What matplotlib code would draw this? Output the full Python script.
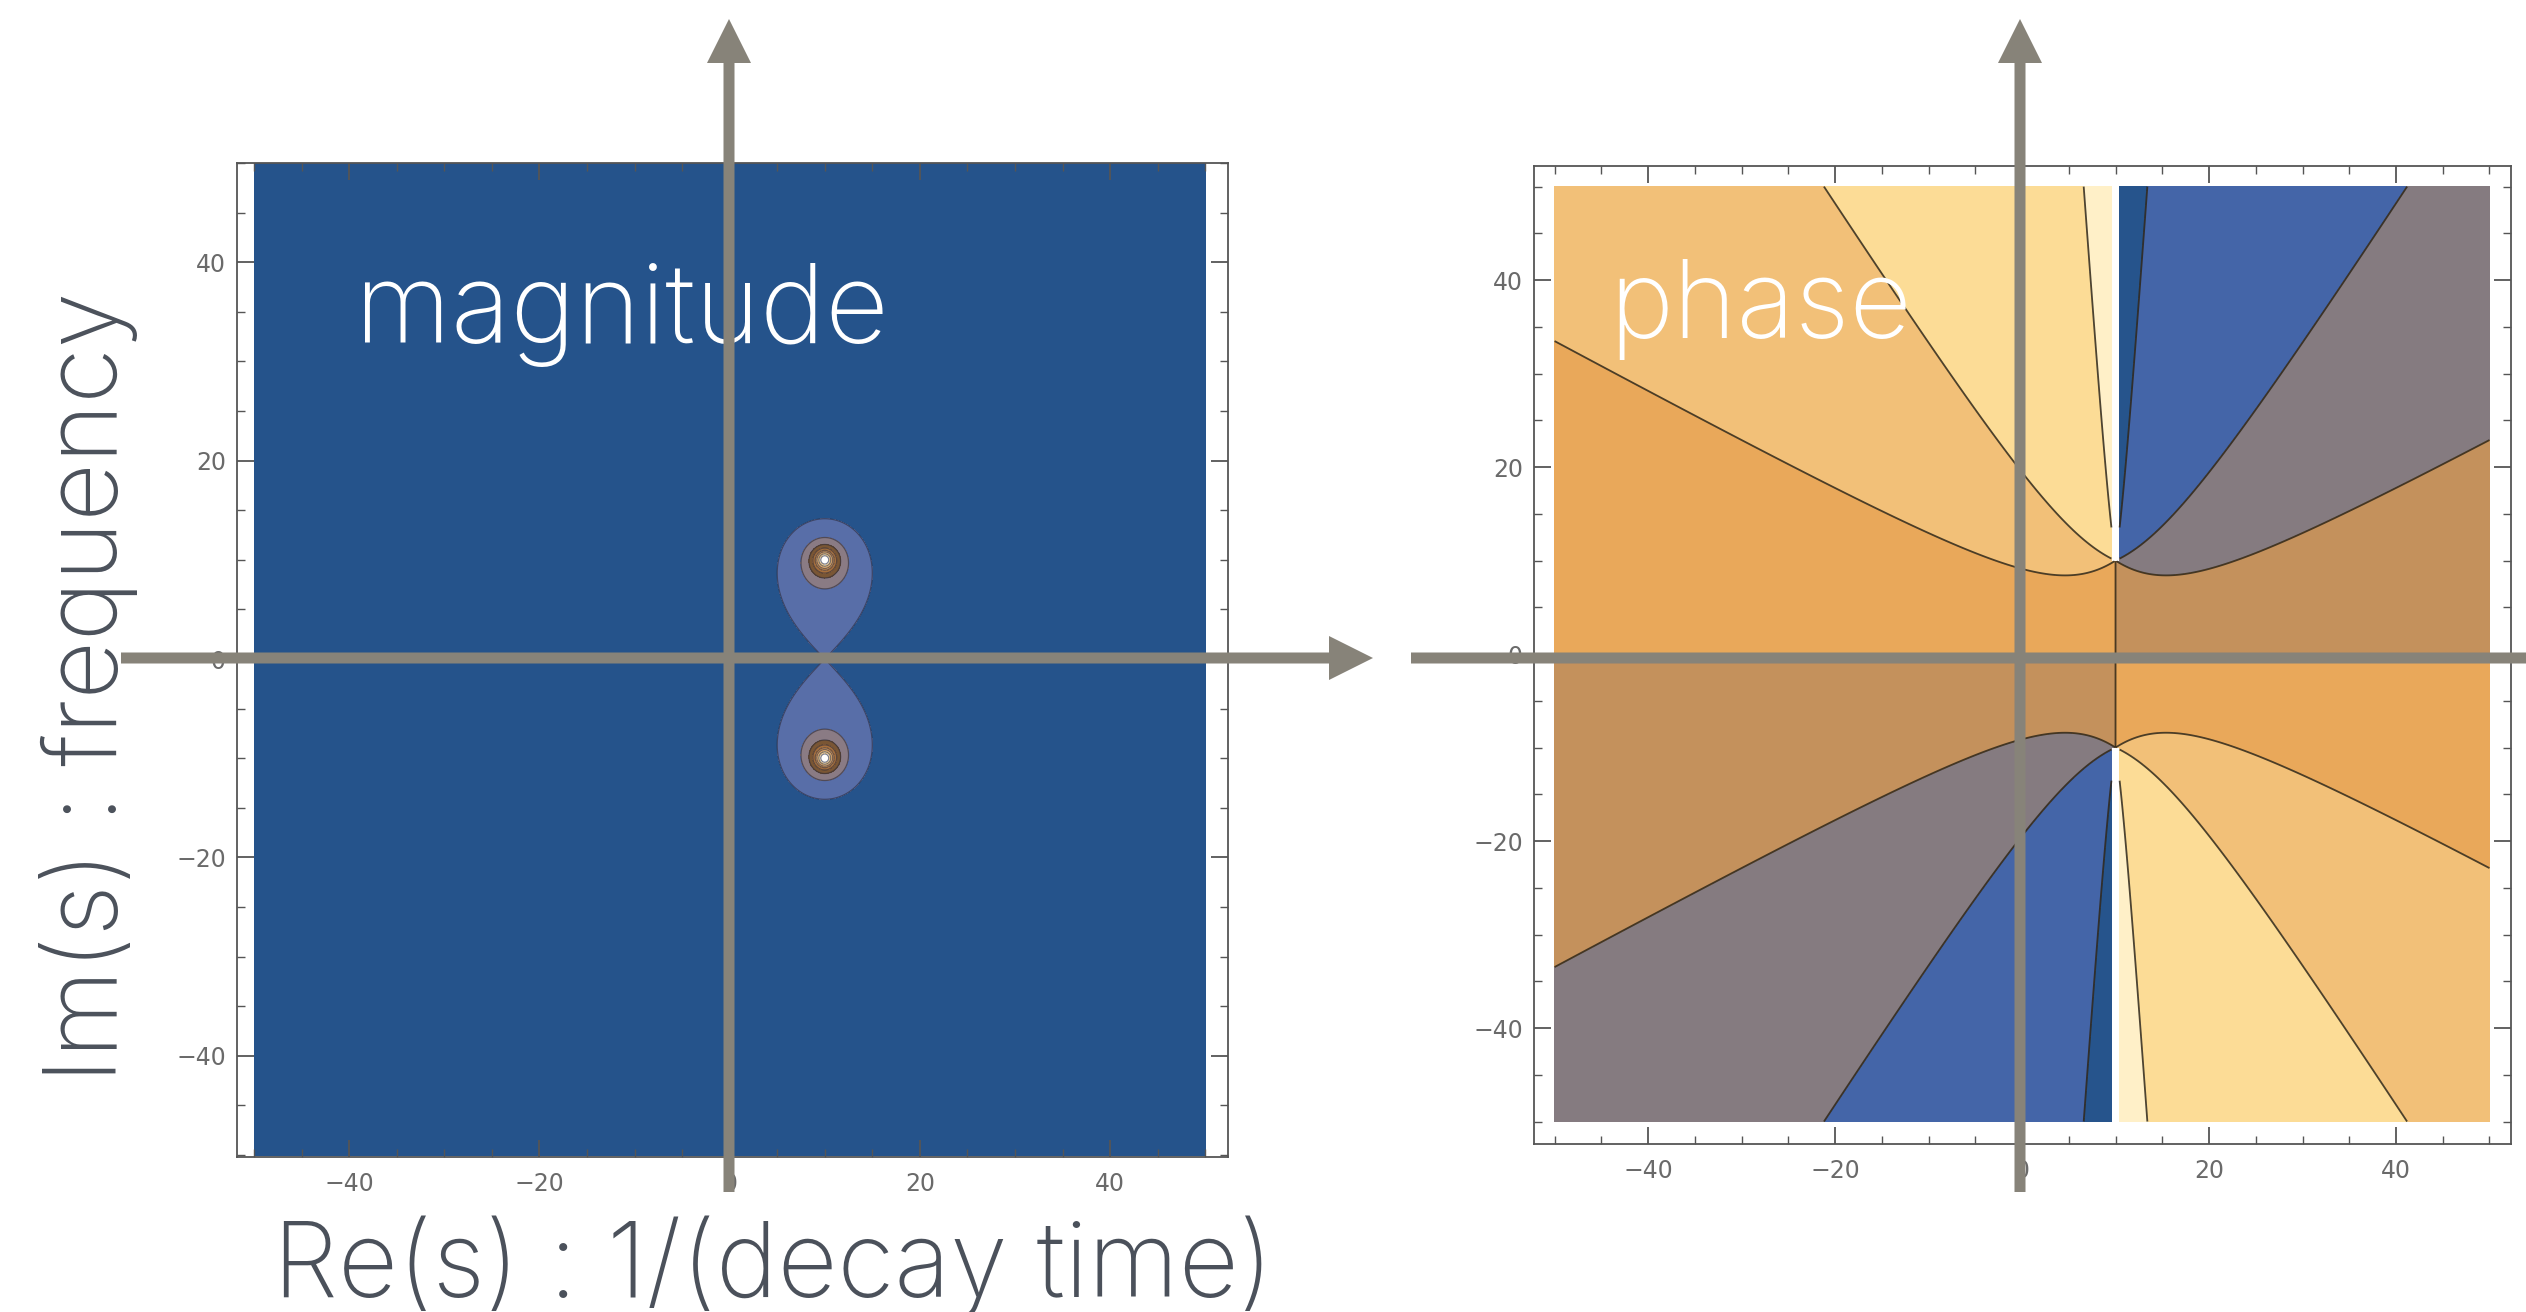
import numpy as np
import matplotlib
matplotlib.use("Agg")
import matplotlib.pyplot as plt
from matplotlib.patches import Polygon

# ---------------- data ----------------
pole_re = [10.0, 10.0]          # poles of H(s) = 1/((s-p1)(s-p2))
pole_im = [10.0, -10.0]
plot_range = [-50.0, 50.0]

# phase contours at integer radians (Mathematica automatic contours)
phase_levels = [-np.pi, -3.0, -2.0, -1.0, 0.0, 1.0, 2.0, 3.0, np.pi]
phase_colors = ["#26548c", "#4465a8", "#857b80", "#c4915c",
                "#e9a85a", "#f2c078", "#fcdc96", "#fff0c8"]

mag_levels = [0.0, 0.01, 0.02, 0.03, 0.04, 0.05, 0.06, 0.08, 0.12, 1e9]
mag_colors = ["#25538b", "#586ea8", "#8a7b84", "#7a5634", "#a8703c",
              "#d09050", "#e8b070", "#f8d8a0", "#ffffff"]

major_ticks = [-40, -20, 0, 20, 40]
major_labels = ["\u221240", "\u221220", "0", "20", "40"]
minor_ticks = list(range(-50, 51, 5))

title_left = "magnitude"
title_right = "phase"
xlabel_text = "Re(s) : 1/(decay time)"
ylabel_text = "Im(s) : frequency"

# ---------------- figure ----------------
W, H = 2526, 1312
fig = plt.figure(figsize=(W / 100, H / 100), dpi=100)
fig.patch.set_facecolor("white")


def frac(px, py):
    return px / W, 1 - py / H


def axes_px(x0, y0, x1, y1):
    fx0, fy1 = frac(x0, y0)
    fx1, fy0 = frac(x1, y1)
    return fig.add_axes([fx0, fy0, fx1 - fx0, fy1 - fy0])


ax_m = axes_px(237, 163, 1228, 1157)
ax_p = axes_px(1534, 166, 2511, 1144)

# grid
n = 1601
xs = np.linspace(plot_range[0], plot_range[1], n) + 1e-4
ys = np.linspace(plot_range[0], plot_range[1], n) + 1e-4
X, Y = np.meshgrid(xs, ys)
S = X + 1j * Y
F = np.ones_like(S)
for pr, pim in zip(pole_re, pole_im):
    F = F / (S - complex(pr, pim))

mag = np.abs(F)
phase = np.angle(F)
cut = (np.abs(X - pole_re[0]) < 0.42) & (np.abs(Y) > abs(pole_im[0]))
phase_m = np.ma.masked_where(cut, phase)

# magnitude plot
ax_m.contourf(X, Y, mag, levels=mag_levels, colors=mag_colors, zorder=1)
ax_m.contour(X, Y, mag, levels=mag_levels[1:-1], colors="#2a2a3a",
             linewidths=0.9, alpha=0.6, linestyles="solid", zorder=2)

# phase plot
ax_p.contourf(X, Y, phase_m, levels=phase_levels, colors=phase_colors, zorder=1)
ax_p.contour(X, Y, phase_m, levels=phase_levels[1:-1], colors="#2e2618",
             linewidths=1.3, alpha=0.85, linestyles="solid", zorder=2)


def style(ax, xlim, ylim):
    ax.set_facecolor("white")
    ax.set_xlim(xlim)
    ax.set_ylim(ylim)
    ax.set_xticks(major_ticks)
    ax.set_yticks(major_ticks)
    ax.set_xticklabels(major_labels)
    ax.set_yticklabels(major_labels)
    ax.set_xticks(minor_ticks, minor=True)
    ax.set_yticks(minor_ticks, minor=True)
    ax.tick_params(which="both", direction="in", top=True, right=True,
                   color="#555555", labelcolor="#6a6a6a", labelsize=17)
    ax.tick_params(which="major", length=12, width=1.3)
    ax.tick_params(which="minor", length=6, width=1.0)
    ax.tick_params(axis="x", pad=11)
    ax.tick_params(axis="y", pad=8)
    for sp in ax.spines.values():
        sp.set_color("#555555")
        sp.set_linewidth(1.3)


style(ax_m, (-51.8, 52.4), (-50.2, 50.0))
style(ax_p, (-52.2, 52.3), (-52.4, 52.2))

# ---------------- big texts ----------------
font_kw = dict(family=["Inter", "DejaVu Sans"], fontweight="light")
fig.text(*frac(355, 343), title_left, color="white", fontsize=79.5,
         ha="left", va="baseline", zorder=5, **font_kw)
fig.text(*frac(1609, 338), title_right, color="white", fontsize=78,
         ha="left", va="baseline", zorder=5, **font_kw)
fig.text(*frac(273, 1297), xlabel_text, color="#4b515b", fontsize=75,
         ha="left", va="baseline", zorder=5, **font_kw)
fig.text(*frac(117, 1083), ylabel_text, color="#4b515b", fontsize=73,
         rotation=90, rotation_mode="anchor", ha="left", va="baseline",
         zorder=5, **font_kw)

# ---------------- grey complex-plane arrows ----------------
ARROW = "#878379"


def arrow(x0, y0, x1, y1, shaft=11, head_w=44, head_l=44):
    d = np.array([x1 - x0, y1 - y0], float)
    L = np.hypot(*d)
    u = d / L
    nvec = np.array([-u[1], u[0]])
    p0 = np.array([x0, y0], float)
    base = p0 + u * (L - head_l)
    tip = np.array([x1, y1], float)
    pts = [p0 + nvec * shaft / 2, base + nvec * shaft / 2,
           base + nvec * head_w / 2, tip, base - nvec * head_w / 2,
           base - nvec * shaft / 2, p0 - nvec * shaft / 2]
    pts = [frac(px, py) for px, py in pts]
    fig.add_artist(Polygon(pts, closed=True, facecolor=ARROW, edgecolor="none",
                           transform=fig.transFigure, zorder=10))


arrow(729, 1192, 729, 19)
arrow(121, 658, 1373, 658)
arrow(2020, 1192, 2020, 19)
arrow(1411, 658, 2640, 658)

fig.savefig("out.png", dpi=100, facecolor="white")
